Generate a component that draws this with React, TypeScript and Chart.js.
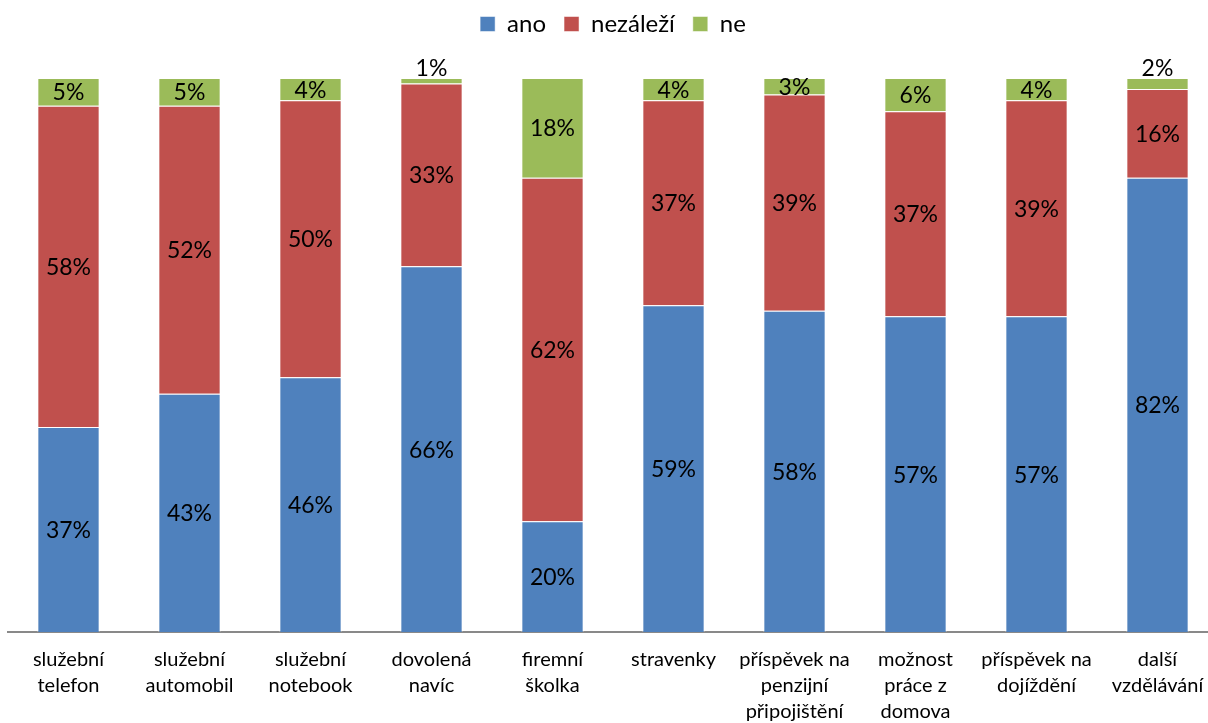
import React, { useEffect, useRef } from "react";
import { Chart, registerables } from "chart.js";

Chart.register(...registerables);

const categories: string[][] = [
  ["služební", "telefon"],
  ["služební", "automobil"],
  ["služební", "notebook"],
  ["dovolená", "navíc"],
  ["firemní", "školka"],
  ["stravenky"],
  ["příspěvek na", "penzijní", "připojištění"],
  ["možnost", "práce z", "domova"],
  ["příspěvek na", "dojíždění"],
  ["další", "vzdělávání"],
];

const ano = [37, 43, 46, 66, 20, 59, 58, 57, 57, 82];
const nezalezi = [58, 52, 50, 33, 62, 37, 39, 37, 39, 16];
const ne = [5, 5, 4, 1, 18, 4, 3, 6, 4, 2];

const FONT = "Lato, 'Open Sans', sans-serif";

const labelPlugin = {
  id: "segLabels",
  afterDatasetsDraw(chart: any) {
    const ctx = chart.ctx;
    ctx.save();
    ctx.font = `23px ${FONT}`;
    ctx.fillStyle = "#000";
    ctx.textAlign = "center";
    chart.data.datasets.forEach((ds: any, di: number) => {
      const meta = chart.getDatasetMeta(di);
      meta.data.forEach((bar: any, i: number) => {
        const v = ds.data[i];
        const top = Math.min(bar.y, bar.base);
        const h = Math.abs(bar.base - bar.y);
        if (h < 13) {
          ctx.textBaseline = "bottom";
          ctx.fillText(v + "%", bar.x, top + 2);
        } else {
          ctx.textBaseline = "middle";
          ctx.fillText(v + "%", bar.x, top + h / 2 + 1);
        }
      });
    });
    ctx.restore();
  },
};

const legendSpace = {
  id: "legendSpace",
  beforeInit(chart: any) {
    const orig = chart.legend.fit;
    chart.legend.fit = function () {
      orig.call(this);
      this.height += 32;
    };
  },
};

export default function App() {
  const ref = useRef<HTMLCanvasElement>(null);
  useEffect(() => {
    document.body.style.margin = "0";
    document.body.style.overflow = "hidden";
    const chart = new Chart(ref.current!, {
      type: "bar",
      data: {
        labels: categories as any,
        datasets: [
          { label: "ano", data: ano, backgroundColor: "#4F81BD", borderColor: "rgba(255,255,255,0.5)", borderWidth: 1 },
          { label: "nezáleží", data: nezalezi, backgroundColor: "#C0504D", borderColor: "rgba(255,255,255,0.5)", borderWidth: 1 },
          { label: "ne", data: ne, backgroundColor: "#9BBB59", borderColor: "rgba(255,255,255,0.5)", borderWidth: 1 },
        ],
      },
      options: {
        animation: false,
        responsive: false,
        maintainAspectRatio: false,
        layout: { padding: { left: 8, right: 2, top: -6, bottom: 0 } },
        datasets: { bar: { categoryPercentage: 1, barPercentage: 0.515 } },
        plugins: {
          legend: {
            position: "top",
            labels: {
              font: { family: FONT, size: 24 },
              color: "#000",
              boxWidth: 15,
              boxHeight: 15,
              padding: 18,
            },
          },
          tooltip: { enabled: false },
        },
        scales: {
          x: {
            stacked: true,
            grid: { display: false, drawTicks: false },
            border: { color: "#898989", width: 2 },
            ticks: {
              font: { family: FONT, size: 20, lineHeight: 1.3 },
              color: "#000",
              padding: 15,
              maxRotation: 0,
              autoSkip: false,
            },
          },
          y: { stacked: true, display: false, min: 0, max: 100 },
        },
      },
      plugins: [labelPlugin, legendSpace],
    });
    return () => chart.destroy();
  }, []);
  return (
    <div style={{ width: 1208, height: 723, overflow: "hidden", position: "relative" }}>
      <canvas ref={ref} width={1220} height={740} style={{ display: "block" }} />
    </div>
  );
}
